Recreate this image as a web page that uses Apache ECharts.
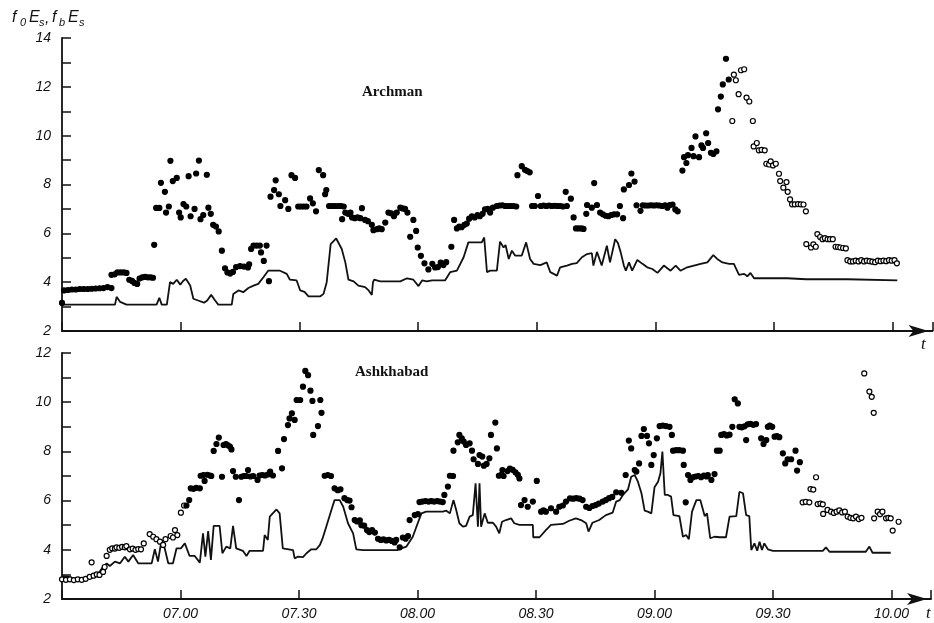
<!DOCTYPE html>
<html><head><meta charset="utf-8">
<script src="https://cdn.jsdelivr.net/npm/echarts@6/dist/echarts.min.js"></script>
<style>html,body{margin:0;padding:0;background:#fff}#c{width:934px;height:623px}</style>
</head><body><div id="c"></div>
<script>
// time in minutes after 06:30
const xTickMinutes = [30, 60, 90, 120, 150, 180, 210];
const xTickLabels = ['07.00', '07.30', '08.00', '08.30', '09.00', '09.30', '10.00'];
const panelNames = ['Archman', 'Ashkhabad'];

// Archman: foEs (points) and fbEs (line)
const archmanFoEs = [
[0,3.15],[0.5,3.66],[1.5,3.68],[2.5,3.7],[3.5,3.7],[4.5,3.72],[5.5,3.72],[6.5,3.72],[7.5,3.73],[8.5,3.74],[9.5,3.75],[10.5,3.76],[11.5,3.8],[12.5,3.76],
[12.5,4.3],[13.3,4.32],[14,4.4],[14.8,4.4],[15.6,4.4],[16.3,4.38],
[17,4.1],[17.7,4.05],[18.3,3.97],[19,3.93],[19.6,4.15],[20.3,4.2],[21,4.22],[21.7,4.2],[22.4,4.2],[23,4.18],
[23.3,5.53],[23.8,7.04],[24.6,7.04],
[25,8.07],[26,7.7],[26.3,6.85],[27,7.1],[27.4,8.97],[28,8.14],[29,8.27],[29.6,6.85],[30,6.65],[30.7,7.2],[31.4,7.1],[32,8.34],[32.5,6.7],[33.5,7.0],[33.9,8.45],[34.6,8.98],[35,6.58],[35.7,6.75],[36.6,8.4],[37,7.05],[37.6,6.8],[38.2,6.35],[38.9,6.28],[39.6,6.08],[40.4,5.29],[41.2,4.57],[41.8,4.4],[42.5,4.35],[43.2,4.42],[44,4.62],[45,4.66],[46,4.64],[47,4.6],[47.3,4.73],[47.8,5.36],[48.4,5.5],[49.2,5.5],[50,5.5],[50.3,5.22],[51,4.87],[51.7,5.5],[52.3,4.04],[52.7,7.5],[53.6,7.77],[54,8.17],[54.8,7.6],[55.2,7.12],[56.4,7.36],[57.2,7.0],[58,8.38],[58.9,8.27],[59.7,7.1],[60.4,7.1],[61.1,7.1],[61.8,7.1],[62.7,7.43],[63.4,7.23],[64.2,6.9],[64.9,8.59],[66,8.38],[66.5,7.6],[66.8,7.77],
[67.5,7.12],[68.3,7.12],[69,7.12],[69.8,7.12],[70.5,7.12],[71.2,7.1],[70.8,6.58],[71.6,6.85],[72.3,6.8],[72.9,6.85],[73.3,6.65],[74,6.62],[74.7,6.65],[75.4,6.62],[75.8,7.03],[76.6,6.55],[77.3,6.5],[78.3,6.35],[78.7,6.13],[79.6,6.17],[80.2,6.2],[80.8,6.17],[81.7,6.44],[82.5,6.85],[83.2,6.82],[83.9,6.7],[84.6,6.85],[85.5,7.05],[86.1,7.02],[86.7,7.0],[87.3,6.85],[88,5.86],[88.8,6.55],[89.5,6.1],[89.9,5.42],[90.7,5.08],[91.6,4.77],[92.6,4.52],[93.6,4.75],[94.3,4.6],[95,4.62],[95.7,4.8],[96.4,4.7],[97.1,4.82],[98.4,5.45],[99.1,6.55],[99.8,6.2],[100.4,6.28],[101,6.25],[101.7,6.35],[102.3,6.4],[102.9,6.6],[103.6,6.7],[104.3,6.65],[105,6.75],[105.6,6.7],[106.3,6.8],[106.9,6.98],[107.6,7.0],[108.2,6.85],[108.9,7.05],[109.9,7.12],[110.6,7.14],[111.3,7.15],[112,7.12],[112.7,7.12],[113.4,7.12],[114.1,7.12],[114.8,7.1],[115.1,8.38],[116.2,8.75],[117,8.6],[117.6,8.55],[118.2,8.5],
[118.8,7.12],[119.5,7.12],[120.3,7.53],[121,7.12],[121.7,7.14],[122.4,7.12],[123.1,7.14],[123.8,7.12],[124.5,7.13],[125.2,7.12],[125.9,7.12],[126.6,7.1],[127.3,7.7],[127.6,7.12],[128.6,7.42],[129.3,6.65],[129.9,6.2],[130.6,6.2],[131.3,6.2],[131.8,6.18],[132.7,7.16],[132.5,6.8],[133.9,7.05],[134.5,8.06],[135.2,7.16],[136,6.85],[136.7,6.78],[137.4,6.72],[138.1,6.7],[138.8,6.75],[139.5,6.78],[140.3,6.78],[141,7.12],[141.8,6.62],[142,7.8],[143.3,7.98],[143.9,8.45],[144.7,8.12],
[145.2,7.15],[146.2,6.92],[146.8,7.15],[147.5,7.14],[148.2,7.14],[148.9,7.15],[149.6,7.14],[150.3,7.15],[151,7.14],[151.7,7.12],[152.4,7.15],[153,7.05],[153.6,7.16],[154.3,7.18],[155,6.98],[155.6,6.9],
[156.8,8.57],[157.2,9.12],[157.8,8.88],[158.2,9.2],[159.1,9.5],[159.6,9.16],[160.1,9.97],[161,9.12],[161.6,9.6],[162,9.5],[162.8,10.1],[163.3,9.7],[164,9.3],[164.6,9.25],[165.4,9.36],[165.8,11.08],[166.5,11.6],[167,12.1],[167.8,13.15],[168.5,12.3],[169.4,10.6],[169.8,12.5],[170.3,12.27],[171,11.7],[171.6,12.68],[172.4,12.72],[173,11.56],[173.7,11.4],[174.6,10.6],[174.8,9.56],[175.6,9.7],[176.1,9.4],[176.8,9.42],[177.6,9.4],[178,8.85],[178.7,8.82],[179.1,8.95],[179.7,8.78],[180.4,8.85],[181.2,8.44],[181.5,8.14],[182.3,7.87],[183.1,8.1],[183.4,7.7],[184,7.39],[184.5,7.19],[185.2,7.19],[186,7.2],[186.7,7.19],[187.4,7.18],[188,6.9],[188.1,5.56],[189.3,5.42],[189.9,5.55],[190.5,5.45],[190.9,5.97],[191.6,5.85],[192.2,5.76],[192.8,5.8],[193.5,5.76],[194.1,5.76],[194.8,5.76],[195.5,5.45],[196.1,5.44],[196.7,5.42],[197.4,5.4],[198.1,5.38],[198.5,4.9],[199.2,4.85],[199.9,4.85],[200.6,4.88],[201.3,4.85],[202,4.9],[202.7,4.85],[203.4,4.88],[204.1,4.86],[204.8,4.84],[205.5,4.82],[206.2,4.88],[206.9,4.86],[207.6,4.88],[208.3,4.86],[209,4.9],[209.7,4.88],[210.4,4.9],[211,4.77]
];
const archmanFbEs = [
[0,3.08],[13.4,3.08],[13.8,3.4],[14.7,3.19],[16.3,3.08],[23.9,3.08],[24.6,3.36],[25.2,3.08],[26.5,3.08],[27.3,4.0],[28.1,3.93],[29,4.1],[29.9,3.9],[30.6,4.05],[31.3,4.14],[32.4,3.86],[33.2,3.32],[34.4,3.25],[35.9,3.16],[36.7,3.25],[37.7,3.48],[38.7,3.25],[39.5,3.08],[42.9,3.08],[43.3,3.52],[44.6,3.66],[45.8,3.59],[47.1,3.76],[48.4,3.86],[49.6,3.93],[50.9,4.2],[52.1,4.47],[53.4,4.47],[55.1,4.47],[56.8,4.34],[57.6,4.1],[59.3,4.07],[60.2,3.66],[61.3,3.6],[62.3,3.42],[65.3,3.42],[66.1,3.52],[66.9,4.0],[67.9,5.56],[69.3,5.79],[70.7,5.36],[71.6,4.81],[72.4,4.1],[73.7,4.03],[74.9,3.86],[76.6,3.8],[77.5,3.66],[78.3,3.48],[78.6,4.0],[78.9,4.1],[80.4,4.03],[85.5,4.03],[87.2,4.16],[88.8,4.1],[90.1,3.84],[91,4.07],[92.2,4.03],[93.5,4.07],[96.8,4.07],[98.1,4.41],[99.8,4.47],[101.5,5.02],[102.7,5.63],[106.1,5.63],[106.7,5.83],[107.4,4.41],[108.2,4.47],[109.9,4.47],[110.7,5.66],[111.6,5.42],[112.1,5.52],[112.9,4.95],[113.7,5.29],[114.5,5.09],[116.2,5.09],[117.3,5.63],[118.3,4.95],[119.2,4.75],[120.9,4.7],[122.5,4.81],[123.4,4.41],[125.1,4.27],[125.9,4.61],[127.6,4.68],[128.9,4.75],[130.1,4.78],[131.4,5.02],[132.7,5.15],[133.9,5.19],[134.3,4.68],[135.2,5.24],[136.4,4.68],[137.7,5.49],[138.5,4.81],[139.8,5.76],[140.5,5.6],[141.2,5.22],[142,4.68],[142.5,4.47],[143.3,4.81],[144.1,4.47],[145.4,4.91],[146.7,4.75],[147.9,4.61],[149.2,4.54],[150.5,4.38],[152.1,4.68],[153.8,4.47],[155.1,4.68],[156.3,4.47],[158,4.61],[159.7,4.68],[161.4,4.75],[163.1,4.81],[164.6,5.11],[165.6,4.95],[166.9,4.81],[168.6,4.75],[169.8,4.75],[171.1,4.3],[172.4,4.34],[173.2,4.24],[174,4.38],[174.9,4.16],[183.3,4.16],[188,4.12],[198.5,4.12],[199,4.07],[211.1,4.07]
];

// Ashkhabad: foEs (points) and fbEs (line)
const ashkhabadFoEs = [
[0,2.8],[1,2.78],[2,2.8],[3,2.77],[4,2.8],[5,2.78],[6,2.82],[7,2.9],[7.5,3.49],[8,2.95],[8.8,3.0],[9.5,2.98],[10.4,3.1],[10.8,3.3],[11.3,3.75],[12.1,4.0],[12.7,4.06],[13.4,4.05],[13.8,4.1],[14.5,4.08],[15.2,4.12],[15.9,4.1],[16.3,4.15],[17.2,4.02],[17.9,4.05],[18.6,4.0],[19.3,4.03],[20,4.02],[20.7,4.26],[22.2,4.64],[23.1,4.53],[23.9,4.43],[24.8,4.33],[25.6,4.2],[26.2,4.43],[27.5,4.56],[28.1,4.5],[28.6,4.8],[29.2,4.6],[30.1,5.51],[30.9,5.8],[31.5,5.8],[32.2,6.02],[32.6,6.5],[33.3,6.48],[34,6.52],[34.9,6.5],[35.1,7.01],[35.8,7.04],[36.1,6.8],[36.8,7.05],[37.5,7.02],[37.8,7.0],[38.4,8.02],[39.1,8.3],[39.7,8.56],[40.5,6.97],[40.9,8.26],[41.5,8.3],[42,8.25],[42.5,8.2],[42.9,8.08],[43.3,7.2],[44,6.97],[44.8,6.02],[45.4,6.97],[46,7.0],[46.6,7.0],[47.1,7.24],[47.7,6.98],[48.4,7.0],[49.5,6.84],[50,7.02],[50.7,7.04],[51.4,7.02],[52.1,7.06],[52.7,7.18],[53.4,7.02],[54.7,8.02],[55.7,7.31],[56.2,8.5],[57.2,9.07],[57.6,9.34],[58.2,9.55],[58.9,9.28],[59.4,10.09],[60.3,10.09],[61,10.63],[61.6,11.27],[62.3,11.1],[62.9,10.47],[63.4,10.05],[63.6,8.67],[64.8,9.03],[65.4,10.09],[65.7,9.57],[66.5,7.01],[67.3,7.04],[68.1,7.0],[69,6.5],[69.8,6.42],[70.5,6.46],[71.5,6.1],[72.2,6.02],[72.8,6.0],[73.3,5.73],[74.1,5.21],[74.7,5.15],[75.4,5.2],[75.8,5.0],[76.5,4.98],[77.2,4.8],[77.8,4.72],[78.5,4.8],[79.2,4.7],[80,4.45],[80.7,4.4],[81.4,4.42],[82.1,4.38],[82.8,4.4],[83.5,4.36],[84.2,4.3],[84.6,4.4],[85.5,4.1],[86.3,4.5],[87,4.45],[87.6,4.56],[88,5.21],[89.3,5.41],[90.1,5.45],[90.5,5.94],[91.2,5.96],[92,5.98],[92.8,5.96],[93.5,5.98],[94.2,5.96],[95,5.98],[95.7,5.96],[96.4,5.94],[96.8,6.23],[97.7,6.57],[98.2,7.01],[99,7.0],[99.1,8.03],[100.2,8.37],[100.6,8.67],[101.2,8.53],[101.7,8.4],[102.3,8.26],[103.2,8.33],[103.8,8.03],[104.2,7.68],[105.3,7.49],[105.7,7.85],[106.4,7.79],[106.8,7.42],[107.5,7.49],[108.2,7.72],[108.6,8.67],[109.7,9.17],[110.1,8.12],[110.6,7.01],[111.2,7.05],[111.8,7.0],[111.5,7.24],[112.8,7.2],[113.4,7.3],[114.1,7.25],[114.8,7.15],[115.4,7.05],[115.8,6.9],[116.2,5.82],[117.1,6.02],[117.9,5.75],[119.2,5.96],[120.2,6.8],[121.3,5.55],[121.9,5.6],[122.5,5.55],[123.8,5.69],[125.1,5.55],[125.9,5.75],[126.8,5.8],[127.6,5.96],[128.6,6.09],[129.4,6.08],[130.2,6.1],[131,6.08],[131.8,6.02],[132.7,5.75],[133.5,5.7],[134.3,5.78],[135.1,5.82],[135.9,5.88],[136.9,5.96],[137.7,6.02],[138.5,6.1],[139.3,6.15],[140.3,6.34],[141.6,6.32],[142.7,7.04],[143.5,8.44],[144.1,8.12],[145,7.24],[145.4,7.18],[146.1,7.51],[146.7,8.63],[147.3,8.91],[148.1,8.63],[148.6,8.33],[149.2,7.45],[149.8,7.85],[150.6,8.53],[151.3,9.03],[152.1,9.05],[152.9,9.03],[153.8,9.0],[154.4,8.67],[154.7,8.03],[155.5,8.05],[156.3,8.05],[157.2,8.03],[157.4,7.45],[157.9,5.93],[158.5,7.04],[159.1,6.84],[159.7,6.95],[160.4,6.98],[161.1,7.0],[161.8,6.95],[162.5,7.02],[163.2,6.98],[163.5,7.04],[164.4,6.84],[165.2,7.08],[165.8,8.03],[166.5,8.03],[166.9,8.67],[167.6,8.7],[168.3,8.65],[169,8.68],[169.7,9.0],[170.3,10.12],[171.1,9.95],[171.5,9.0],[172.1,8.98],[172.8,9.02],[173.2,8.46],[173.6,9.1],[174.3,9.12],[175,9.08],[175.7,9.11],[177,8.53],[177.6,8.3],[178.3,8.46],[178.7,9.0],[179.2,9.05],[179.8,9.0],[180.4,8.6],[181,8.62],[181.6,8.58],[182.5,7.92],[183.1,7.51],[183.7,7.68],[184.6,7.68],[185.7,8.03],[186.1,7.22],[186.8,7.56],[187.5,5.93],[188.3,5.95],[189.2,5.93],[189.5,6.47],[190.2,6.45],[190.9,6.95],[191.3,5.86],[192,5.88],[192.6,5.85],[192.7,5.46],[193.8,5.62],[194.7,5.55],[195.4,5.5],[196.1,5.55],[196.8,5.6],[197.5,5.52],[198.2,5.55],[198.9,5.35],[199.6,5.3],[200.3,5.28],[201,5.35],[201.7,5.25],[202.4,5.3],[203.1,11.17],[204.4,10.43],[205,10.22],[205.5,9.57],[205.6,5.28],[206.5,5.55],[207.1,5.45],[207.7,5.55],[208.6,5.28],[209.2,5.3],[209.8,5.28],[210.3,4.78],[211.8,5.14]
];
const ashkhabadFbEs = [
[0,2.93],[1.7,2.91],[3.7,2.77],[6.2,2.84],[7.9,2.9],[9.2,3.04],[10.4,3.31],[11.3,3.45],[12.1,3.34],[13.4,3.52],[14.7,3.45],[15.9,3.72],[16.8,3.52],[18,3.79],[19.3,3.45],[20.6,3.45],[22.7,3.45],[23.5,4.02],[24.3,3.52],[25.2,4.4],[26,4.06],[26.9,3.45],[28.1,3.45],[29,4.06],[30.1,4.06],[31.1,4.26],[32.3,3.75],[33.6,3.75],[34.9,3.48],[35.7,4.67],[36.3,3.72],[37,4.76],[37.7,3.59],[38.4,4.97],[39.9,4.97],[40.6,3.86],[41.6,4.13],[42.6,4.06],[43.3,4.97],[44.1,4.06],[45.8,3.96],[46.7,3.75],[47.5,3.96],[50.9,3.96],[51.3,4.6],[52.1,4.4],[52.6,5.35],[54.3,5.64],[55.1,5.48],[55.9,4.06],[58.5,3.99],[58.9,3.65],[59.7,3.72],[61,3.7],[61.9,3.86],[63.1,4.02],[64.4,4.02],[65.3,4.2],[65.9,4.43],[66.9,4.94],[68.2,5.62],[69,6.02],[70.3,6.02],[71.2,5.75],[72.4,5.08],[73.7,4.67],[74.5,4.02],[76.2,3.99],[85,3.99],[85.9,4.06],[87.2,4.13],[88.8,4.53],[90.1,5.1],[91,5.48],[92.2,5.55],[96.4,5.55],[97.3,5.59],[98.2,5.48],[99.1,6.02],[99.8,5.62],[100.6,5.08],[101.5,4.94],[102.3,4.97],[103.2,5.35],[104,5.41],[104.7,6.7],[105.3,4.94],[105.7,6.7],[106.1,4.94],[107,5.48],[107.8,5.1],[109.1,5.1],[109.9,4.94],[110.7,4.67],[111.4,5.14],[112.4,5.21],[113.7,5.28],[114.5,5.08],[115.8,5.01],[119.2,5.01],[119.3,4.51],[120.9,4.51],[122.5,4.8],[123.8,5.01],[126.8,5.05],[128.4,5.18],[130.1,5.28],[131.4,5.21],[132.7,5.08],[133.3,4.74],[134.3,5.1],[136,5.21],[137.7,5.41],[139.4,5.51],[140.3,5.96],[141.2,6.02],[142,6.23],[143.3,6.46],[144.1,6.97],[145,7.04],[145.8,6.77],[146.7,6.3],[147.5,5.59],[148.3,5.55],[149.2,5.48],[150,6.54],[150.9,6.77],[151.5,7.11],[152,7.99],[152.6,6.23],[153.4,6.23],[154.2,6.16],[154.8,5.41],[156.3,5.37],[157.2,4.53],[158,4.6],[158.7,4.43],[159.5,5.55],[160.6,6.02],[161.6,6.02],[162.7,5.37],[163.3,5.48],[164.1,4.47],[165.2,4.53],[166.5,4.51],[168.1,4.51],[169,5.35],[170.7,5.37],[171.5,6.36],[172.4,6.3],[173.2,5.41],[174,5.37],[174.5,3.99],[175.3,4.26],[176,3.96],[176.6,4.33],[177.2,3.99],[177.8,4.26],[178.7,4.02],[180,3.96],[192.6,3.96],[193.4,4.1],[194.3,3.92],[203.5,3.92],[204.4,4.13],[205.2,3.88],[209.8,3.88]
];

const INK = '#111';
const labelFont = { fontFamily: 'Liberation Sans', fontStyle: 'italic', fontSize: 14, color: INK };

function xAxisCfg(gridIndex, showLabels) {
  return {
    type: 'value', gridIndex, min: 0, max: 220, interval: 30,
    axisLine: { onZero: false, symbol: ['none', 'arrow'], symbolSize: [9, 20], symbolOffset: [0, -4], lineStyle: { color: INK, width: 1.8 } },
    axisTick: { inside: true, length: 9, lineStyle: { color: INK, width: 1.5 } },
    axisLabel: Object.assign({ show: showLabels, margin: 8,
      formatter: v => { const i = xTickMinutes.indexOf(v); return i >= 0 ? xTickLabels[i] : ''; } }, labelFont),
    splitLine: { show: false }
  };
}
function yAxisCfg(gridIndex, max) {
  return {
    type: 'value', gridIndex, min: 2, max, interval: 1,
    axisLine: { show: true, onZero: false, lineStyle: { color: INK, width: 1.8 } },
    axisTick: { inside: true, length: 9, lineStyle: { color: INK, width: 1.5 } },
    axisLabel: Object.assign({ margin: 11, formatter: v => (v % 2 === 0 ? String(v) : '') }, labelFont),
    splitLine: { show: false }
  };
}
function lineSeries(idx, data) {
  return { type: 'line', xAxisIndex: idx, yAxisIndex: idx, data, showSymbol: false, symbol: 'none',
    lineStyle: { color: INK, width: 1.8 }, z: 2 };
}
function pointSeries(idx, data, isOpen) {
  return { type: 'scatter', xAxisIndex: idx, yAxisIndex: idx, data, symbolSize: 5,
    itemStyle: { color: p => (isOpen(p.value[0]) ? '#fff' : '#000'), borderColor: '#000', borderWidth: 1.2, opacity: 1 }, z: 3 };
}

const chart = echarts.init(document.getElementById('c'));
const italicSerif = 'italic 17px "Liberation Serif"';
const subFont = 'italic 11px "Liberation Sans"';
const mainFont = 'italic 16px "Liberation Sans"';
chart.setOption({
  animation: false,
  backgroundColor: '#fff',
  grid: [
    { left: 62, top: 38, right: 1.5, bottom: 292, containLabel: false },
    { left: 62, top: 353, right: 1.5, bottom: 24, containLabel: false }
  ],
  xAxis: [xAxisCfg(0, false), xAxisCfg(1, true)],
  yAxis: [yAxisCfg(0, 14), yAxisCfg(1, 12)],
  series: [
    lineSeries(0, archmanFbEs),
    pointSeries(0, archmanFoEs, t => t >= 168.8),
    lineSeries(1, ashkhabadFbEs),
    pointSeries(1, ashkhabadFoEs, t => t < 31 || t >= 187)
  ],
  graphic: [
    { type: 'text', style: { x: 362, y: 92, text: panelNames[0], font: 'bold 15px "Liberation Serif"', fill: INK, textVerticalAlign: 'middle' } },
    { type: 'text', style: { x: 355, y: 372, text: panelNames[1], font: 'bold 15px "Liberation Serif"', fill: INK, textVerticalAlign: 'middle' } },
    { type: 'text', style: { x: 921, y: 345, text: 't', font: italicSerif, fill: INK, textVerticalAlign: 'middle' } },
    { type: 'text', style: { x: 926, y: 614, text: 't', font: italicSerif, fill: INK, textVerticalAlign: 'middle' } },
    { type: 'text', style: { x: 12, y: 18, text: 'f', font: mainFont, fill: INK, textVerticalAlign: 'middle' } },
    { type: 'text', style: { x: 20, y: 23, text: '0', font: subFont, fill: INK, textVerticalAlign: 'middle' } },
    { type: 'text', style: { x: 29, y: 18, text: 'E', font: mainFont, fill: INK, textVerticalAlign: 'middle' } },
    { type: 'text', style: { x: 39, y: 23, text: 's', font: subFont, fill: INK, textVerticalAlign: 'middle' } },
    { type: 'text', style: { x: 45, y: 19, text: ',', font: mainFont, fill: INK, textVerticalAlign: 'middle' } },
    { type: 'text', style: { x: 52, y: 18, text: 'f', font: mainFont, fill: INK, textVerticalAlign: 'middle' } },
    { type: 'text', style: { x: 59, y: 23, text: 'b', font: subFont, fill: INK, textVerticalAlign: 'middle' } },
    { type: 'text', style: { x: 68, y: 18, text: 'E', font: mainFont, fill: INK, textVerticalAlign: 'middle' } },
    { type: 'text', style: { x: 79, y: 23, text: 's', font: subFont, fill: INK, textVerticalAlign: 'middle' } }
  ]
});
</script>
</body></html>
